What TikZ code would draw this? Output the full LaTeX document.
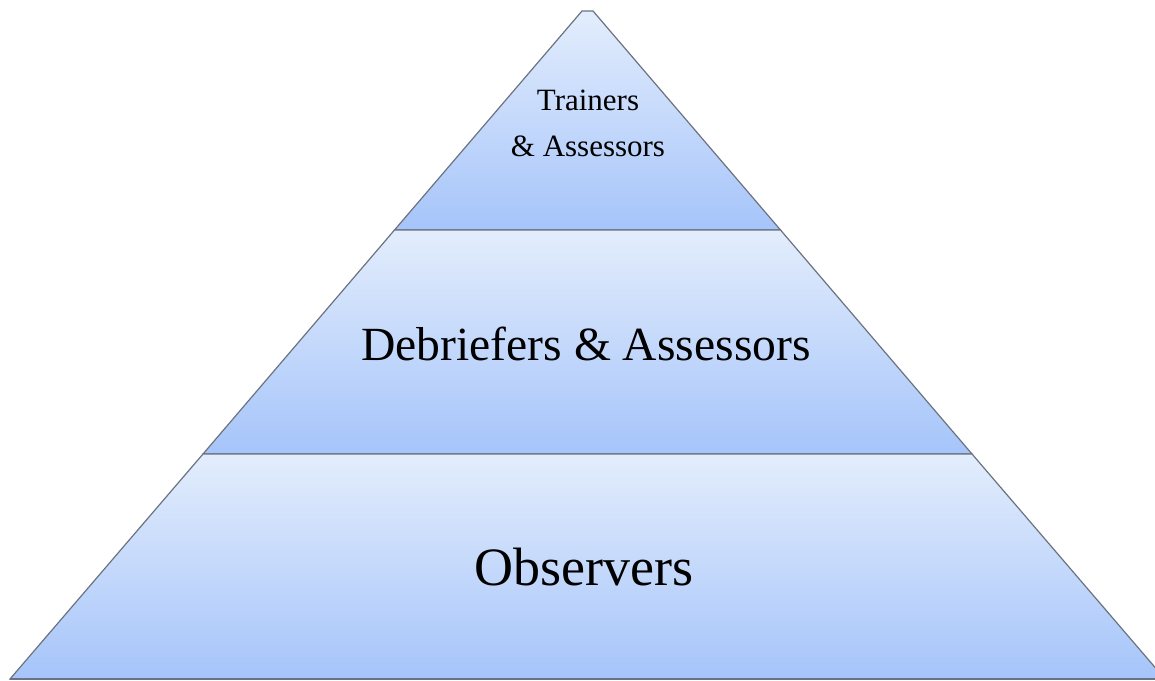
\documentclass[tikz,border=0pt]{standalone}
\usepackage{fontspec}
\setmainfont{Liberation Serif}
\usetikzlibrary{shapes}
\pgfdeclarelayer{edgelayer}
\pgfdeclarelayer{nodelayer}
\pgfsetlayers{edgelayer,nodelayer,main}
\definecolor{tiertop}{rgb}{0.89,0.93,0.99}
\definecolor{tierbottom}{rgb}{0.65,0.77,0.98}
\definecolor{tiergray}{rgb}{0.42,0.45,0.50}
\tikzstyle{none}=[inner sep=0pt]
\tikzstyle{tier}=[draw=tiergray, line width=0.6pt, top color=tiertop, bottom color=tierbottom]
\tikzstyle{label}=[inner sep=0pt, align=center, text=black]

\begin{document}
\begin{tikzpicture}[x=0.5pt, y=-0.5pt]
	\useasboundingbox (0, 0) rectangle (1155, 680);
	\clip (0, 0) rectangle (1155, 680);
	\begin{pgfonlayer}{nodelayer}
		\node [style=none] (0) at (582, 11) {};
		\node [style=none] (1) at (593, 11) {};
		\node [style=none] (2) at (394.5, 230) {};
		\node [style=none] (3) at (780.5, 230) {};
		\node [style=none] (4) at (203, 454) {};
		\node [style=none] (5) at (972, 454) {};
		\node [style=none] (6) at (10, 679) {};
		\node [style=none] (7) at (1165, 679) {};
		\node [style=label, font=\fontsize{15.5}{23}\selectfont] (8) at (588, 123) {Trainers\\\& Assessors};
		\node [style=label, font=\fontsize{23.8}{28}\selectfont] (9) at (586, 344) {Debriefers \& Assessors};
		\node [style=label, font=\fontsize{27}{32}\selectfont] (10) at (584, 567) {Observers};
	\end{pgfonlayer}
	\begin{pgfonlayer}{edgelayer}
		\draw [style=tier] (0.center) to (1.center) to (3.center) to (2.center) -- cycle;
		\draw [style=tier] (2.center) to (3.center) to (5.center) to (4.center) -- cycle;
		\draw [style=tier] (4.center) to (5.center) to (7.center) to (6.center) -- cycle;
		\draw [color=tiergray, line width=1.2pt] (6.center) to (7.center);
	\end{pgfonlayer}
\end{tikzpicture}
\end{document}
